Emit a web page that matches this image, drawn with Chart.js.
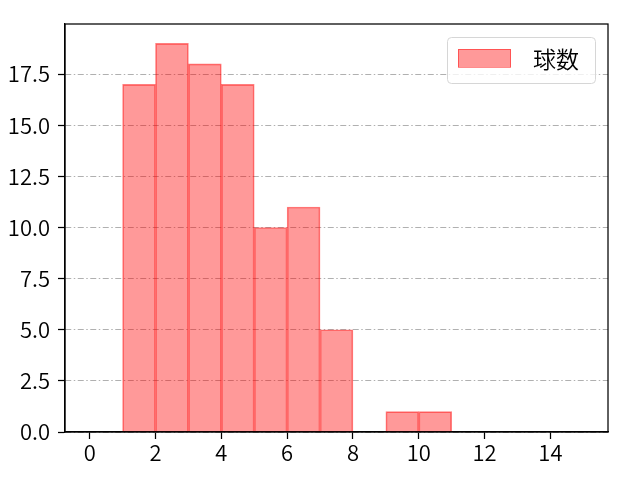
<!DOCTYPE html>
<html>
<head>
<meta charset="utf-8">
<script src="https://cdn.jsdelivr.net/npm/chart.js@4.4.1/dist/chart.umd.min.js"></script>
<style>
  html, body { margin: 0; padding: 0; background: #fff; }
  #wrap { width: 640px; height: 480px; }
</style>
</head>
<body>
<div id="wrap"><canvas id="histChart" width="640" height="480"></canvas></div>
<script>
// histogram bins (left edges) and counts
const binEdges = [0, 1, 2, 3, 4, 5, 6, 7, 8, 9, 10, 11, 12, 13, 14];
const counts = [0, 17, 19, 18, 17, 10, 11, 5, 0, 1, 1, 0, 0, 0, 0];
const xTicks = [0, 2, 4, 6, 8, 10, 12, 14];
const yTicks = [0, 2.5, 5, 7.5, 10, 12.5, 15, 17.5];
const seriesLabel = '球数';

const FONT = '"Noto Sans CJK JP", "Noto Sans", sans-serif';

const frame = {
    id: 'frame',
    afterDraw(chart) {
        const { ctx, chartArea: a } = chart;
        ctx.save();
        ctx.strokeStyle = '#000';
        ctx.lineWidth = 1.25;
        ctx.strokeRect(a.left, a.top, a.right - a.left, a.bottom - a.top);

        // legend box, upper right
        const bx = 447.5, by = 37.5, bw = 148, bh = 46, r = 4;
        ctx.globalAlpha = 0.8;
        ctx.fillStyle = '#fff';
        ctx.beginPath();
        ctx.roundRect(bx, by, bw, bh, r);
        ctx.fill();
        ctx.globalAlpha = 1;
        ctx.strokeStyle = '#d6d6d6';
        ctx.lineWidth = 1;
        ctx.stroke();
        ctx.fillStyle = 'rgba(255,0,0,0.4)';
        ctx.fillRect(458, 49, 53, 18);
        ctx.strokeStyle = 'rgba(255,0,0,0.45)';
        ctx.strokeRect(458.5, 49.5, 52, 18);
        ctx.fillStyle = '#000';
        ctx.font = '350 23px ' + FONT;
        ctx.textBaseline = 'middle';
        ctx.fillText(seriesLabel, 533, 59);
        ctx.restore();
    }
};

new Chart(document.getElementById('histChart'), {
    type: 'bar',
    data: {
        datasets: [{
            label: seriesLabel,
            data: binEdges.map((e, i) => ({ x: e + 0.5, y: counts[i] })),
            backgroundColor: 'rgba(255,0,0,0.4)',
            borderColor: 'rgba(255,0,0,0.5)',
            borderWidth: 1,
            borderSkipped: 'start',
            barPercentage: 1,
            categoryPercentage: 1
        }]
    },
    options: {
        responsive: false,
        animation: false,
        layout: { padding: { left: 0, top: 24, right: 32, bottom: 0 } },
        plugins: { legend: { display: false }, tooltip: { enabled: false } },
        scales: {
            x: {
                type: 'linear',
                min: -0.75,
                max: 15.75,
                offset: false,
                afterBuildTicks: s => { s.ticks = xTicks.map(v => ({ value: v })); },
                afterFit: s => { s.height = 48; },
                ticks: { color: '#000', font: { family: FONT, size: 22, weight: 350 }, padding: 0, maxRotation: 0 },
                grid: { offset: false, drawOnChartArea: false, tickLength: 7, tickColor: '#000', tickWidth: 1.25 },
                border: { color: '#000', width: 1.25 }
            },
            y: {
                min: 0,
                max: 19.95,
                z: 1,
                afterBuildTicks: s => { s.ticks = yTicks.map(v => ({ value: v })); },
                afterFit: s => { s.width = 65; },
                ticks: {
                    color: '#000',
                    font: { family: FONT, size: 22, weight: 350 },
                    padding: 8,
                    callback: v => v.toFixed(1)
                },
                grid: {
                    color: '#b0b0b0',
                    lineWidth: 1,
                    tickLength: 7,
                    tickColor: '#000',
                    tickWidth: 1.25,
                    tickBorderDash: []
                },
                border: { color: '#000', width: 1.25, dash: [6, 2.5, 1.5, 2.5] }
            }
        }
    },
    plugins: [frame]
});
</script>
</body>
</html>
